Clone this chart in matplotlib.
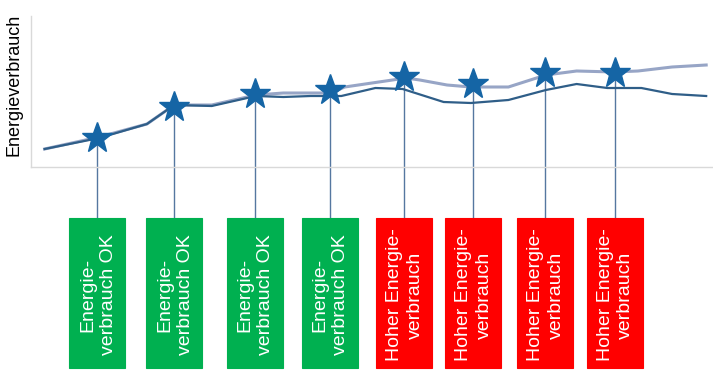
import matplotlib
matplotlib.use("Agg")
import matplotlib.pyplot as plt
from matplotlib.patches import Rectangle

plt.rcParams['font.family'] = ['Liberation Sans', 'DejaVu Sans']

# Data (time in arbitrary units, energy in arbitrary units)
t_light = [2, 10, 17, 21, 26.5, 33, 37, 44, 46, 51, 55, 57, 61, 64.5, 70, 75.5, 80, 85.5, 89, 94, 99]
e_light = [18, 30, 43, 62, 62, 72, 74, 74, 80, 85, 89, 87, 82, 80, 80, 92, 96, 95, 96, 100, 102]

t_dark = [2, 10, 17, 21, 26.5, 33, 37, 41, 45.5, 50.5, 54.5, 60.5, 64.5, 70, 75.5, 80, 84.5, 89.5, 94, 99]
e_dark = [18, 29, 43, 62, 61, 71, 70, 71, 71, 79, 78, 65, 64, 67, 77, 83, 79, 79, 73, 71]

t_events = [9.7, 21.0, 32.8, 43.8, 54.7, 64.8, 75.4, 85.6]
e_events = [29, 60, 73, 77, 90, 83, 94, 94]
labels = ["Energie-\nverbrauch OK"] * 4 + ["Hoher Energie-\nverbrauch"] * 4
ok = [True] * 4 + [False] * 4

fig = plt.figure(figsize=(7.13, 3.70), dpi=100)
ax = fig.add_axes([31/713, (370-167)/370, 682/713, 151/370])
ax.set_xlim(0, 100)
ax.set_ylim(0, 151)

ax.plot(t_light, e_light, color='#97A5C6', lw=2.2, zorder=2, solid_joinstyle='round')
ax.plot(t_dark, e_dark, color='#2F5E88', lw=1.6, zorder=3, solid_joinstyle='round')

box_top, box_bot = -51, -201
box_w = 8.2
for t, e, lab, good in zip(t_events, e_events, labels, ok):
    ax.plot([t, t], [e, box_top], color='#5577A0', lw=1.0, zorder=1, clip_on=False)
    col = '#00B050' if good else '#FF0000'
    ax.add_patch(Rectangle((t - box_w/2, box_bot), box_w, box_top - box_bot,
                           facecolor=col, edgecolor=col, lw=0.8, clip_on=False, zorder=4))
    ax.text(t + 0.1, (box_top + box_bot)/2 - 2, lab, rotation=90, color='white', fontsize=14,
            ha='center', va='center', multialignment='center', linespacing=1.3,
            zorder=5, clip_on=False)

ax.plot(t_events, e_events, linestyle='none', marker='*', markersize=22.5,
        color='#1565A5', markeredgecolor='#1565A5', zorder=6, clip_on=False)

for s in ['top', 'right']:
    ax.spines[s].set_visible(False)
for s in ['left', 'bottom']:
    ax.spines[s].set_color('#D9D9D9')
    ax.spines[s].set_linewidth(1.0)
ax.set_xticks([])
ax.set_yticks([])
ax.set_ylabel('Energieverbrauch', fontsize=13, color='black')
ax.yaxis.set_label_coords(-8/682, (167-85)/151)

fig.savefig('out.png', dpi=100)
